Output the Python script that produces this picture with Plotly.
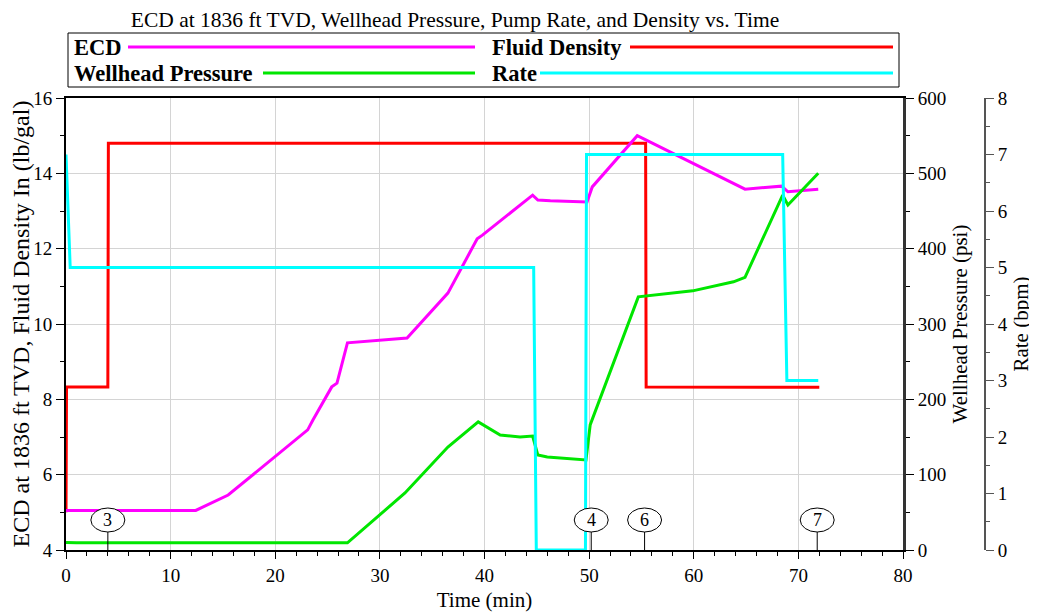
import plotly.graph_objects as go

# ---------------- data ----------------
ecd_t = [0.0, 12.4, 15.5, 23.1, 23.6, 25.4, 25.9, 26.9, 32.6, 36.5, 39.3, 39.8, 44.6, 45.1, 46.3,
         49.8, 50.3, 54.6, 64.9, 68.4, 69.0, 71.9]
ecd_v = [5.05, 5.05, 5.46, 7.19, 7.45, 8.33, 8.43, 9.50, 9.63, 10.82, 12.26, 12.36, 13.42, 13.29, 13.27,
         13.24, 13.64, 15.0, 13.58, 13.66, 13.51, 13.58]

dens_t = [0.0, 0.05, 4.0, 4.05, 55.4, 55.45, 72.0]
dens_v = [5.0, 8.33, 8.33, 14.8, 14.8, 8.33, 8.32]

whp_t = [0.0, 1.0, 26.9, 32.4, 36.5, 39.4, 41.5, 43.4, 44.6, 45.1, 46.0, 49.7, 50.1, 54.7, 59.9, 63.8,
         64.9, 68.5, 69.0, 71.9]
whp_v = [10.0, 9.5, 9.5, 75.7, 136.7, 170.0, 152.6, 150.0, 151.3, 126.0, 123.5, 119.5, 166.0, 336.0,
         344.0, 356.0, 362.0, 471.0, 458.0, 500.0]

rate_t = [0.0, 0.4, 44.7, 44.95, 49.65, 49.75, 68.5, 68.9, 71.9]
rate_v = [7.0, 5.0, 5.0, 0.0, 0.0, 7.0, 7.0, 3.0, 3.0]

event_labels = ["3", "4", "6", "7"]
event_times = [4.0, 50.2, 55.3, 71.8]

x_ticks = [0, 10, 20, 30, 40, 50, 60, 70, 80]

# ---------------- styling ----------------
FONT = "Liberation Serif"
C_ECD = "#ff00ff"
C_DENS = "#ff0000"
C_WHP = "#00e600"
C_RATE = "#00ffff"
LW = 3

OFF = 8  # page body margin
W, H = 1037 - OFF, 613 - OFF
ML = 66 - OFF
MT = 98 - OFF
MB = H - (550 - OFF)
MR = W - (985 - OFF)
PW = W - ML - MR
PH = H - MT - MB
xdom_end = (903 - OFF - ML) / PW

def px_x(p):
    return (p - OFF - ML) / PW

def px_y(p):
    return (H - MB - (p - OFF)) / PH

fig = go.Figure()
fig.add_trace(go.Scatter(x=dens_t, y=dens_v, mode="lines", name="Fluid Density",
                         line=dict(color=C_DENS, width=LW), yaxis="y"))
fig.add_trace(go.Scatter(x=ecd_t, y=ecd_v, mode="lines", name="ECD",
                         line=dict(color=C_ECD, width=LW), yaxis="y"))
fig.add_trace(go.Scatter(x=whp_t, y=whp_v, mode="lines", name="Wellhead Pressure",
                         line=dict(color=C_WHP, width=LW), yaxis="y2"))
fig.add_trace(go.Scatter(x=rate_t, y=rate_v, mode="lines", name="Rate",
                         line=dict(color=C_RATE, width=LW), yaxis="y3"))

shapes = []
annotations = []

# event markers
for lab, t in zip(event_labels, event_times):
    shapes.append(dict(type="line", xref="x", yref="y", x0=t, x1=t,
                       ysizemode="pixel", yanchor=4, y0=0, y1=18,
                       line=dict(color="black", width=1)))
    shapes.append(dict(type="circle", xref="x", yref="y",
                       xsizemode="pixel", xanchor=t, x0=-17, x1=17,
                       ysizemode="pixel", yanchor=4, y0=18, y1=42,
                       line=dict(color="black", width=1), fillcolor="white"))
    annotations.append(dict(x=t, y=4, xref="x", yref="y", text=lab, showarrow=False,
                            yshift=30, font=dict(family=FONT, size=18, color="black")))

# custom legend
shapes.append(dict(type="rect", xref="paper", yref="paper",
                   x0=px_x(68), x1=px_x(899), y0=px_y(87), y1=px_y(33),
                   line=dict(color="black", width=1), fillcolor="white"))
legend_items = [
    ("ECD", C_ECD, 72, 128, 475, 47),
    ("Fluid Density", C_DENS, 490, 630, 893, 47),
    ("Wellhead Pressure", C_WHP, 72, 263, 475, 73),
    ("Rate", C_RATE, 490, 540, 893, 73),
]
for name, col, tx, l0, l1, ty in legend_items:
    annotations.append(dict(x=px_x(tx), y=px_y(ty), xref="paper", yref="paper",
                            xanchor="left", yanchor="middle", showarrow=False,
                            text="<b>" + name + "</b>",
                            font=dict(family=FONT, size=22.5, color="black")))
    shapes.append(dict(type="line", xref="paper", yref="paper",
                       x0=px_x(l0), x1=px_x(l1), y0=px_y(ty), y1=px_y(ty),
                       line=dict(color=col, width=LW)))

tickfont = dict(family=FONT, size=19, color="black")
titlefont = dict(family=FONT, size=21, color="black")

fig.update_layout(
    width=W, height=H,
    margin=dict(l=ML, r=MR, t=MT, b=MB, autoexpand=False),
    paper_bgcolor="white", plot_bgcolor="white",
    showlegend=False,
    title=dict(text="ECD at 1836 ft TVD, Wellhead Pressure, Pump Rate, and Density vs. Time",
               x=(455 - OFF) / W, xref="container", xanchor="center",
               y=1 - (19 - OFF) / H, yref="container", yanchor="middle", automargin=False,
               font=dict(family=FONT, size=21.5, color="black")),
    xaxis=dict(domain=[0, xdom_end], range=[0, 80], tickvals=x_ticks, automargin=False,
               showgrid=True, gridcolor="#d4d4d4", gridwidth=1, zeroline=False,
               showline=True, linecolor="black", linewidth=2, mirror=True,
               ticks="outside", ticklen=7, tickwidth=1, tickcolor="black",
               minor=dict(dtick=2, ticks="outside", ticklen=4, tickcolor="black", showgrid=False),
               tickfont=tickfont,
               title=dict(text="Time (min)", font=titlefont, standoff=8)),
    yaxis=dict(range=[4, 16], dtick=2, showgrid=True, gridcolor="#d4d4d4", zeroline=False,
               automargin=False,
               showline=True, linecolor="black", linewidth=2,
               ticks="outside", ticklen=8, tickwidth=1, tickcolor="black",
               minor=dict(dtick=1, ticks="outside", ticklen=4, tickcolor="black", showgrid=False),
               tickfont=tickfont,
               title=dict(text="ECD at 1836 ft TVD, Fluid Density In (lb/gal)",
                          font=dict(family=FONT, size=24, color="black"), standoff=4)),
    yaxis2=dict(range=[0, 600], dtick=100, overlaying="y", side="right", anchor="x",
                automargin=False,
                showgrid=False, zeroline=False,
                showline=True, linecolor="#333333", linewidth=3,
                ticks="outside", ticklen=8, tickwidth=1, tickcolor="black",
                minor=dict(dtick=50, ticks="outside", ticklen=4, tickcolor="black"),
                tickfont=tickfont,
                title=dict(text="Wellhead Pressure (psi)", font=titlefont, standoff=8)),
    yaxis3=dict(range=[0, 8], dtick=1, overlaying="y", side="right", anchor="free", position=1.0,
                automargin=False,
                showgrid=False, zeroline=False,
                showline=True, linecolor="#555555", linewidth=2,
                ticks="outside", ticklen=8, tickwidth=1, tickcolor="#555555",
                minor=dict(dtick=0.5, ticks="outside", ticklen=4, tickcolor="#555555"),
                tickfont=tickfont,
                title=dict(text="Rate (bpm)", font=titlefont, standoff=6)),
    shapes=shapes,
    annotations=annotations,
)

fig.write_html("out.html")
